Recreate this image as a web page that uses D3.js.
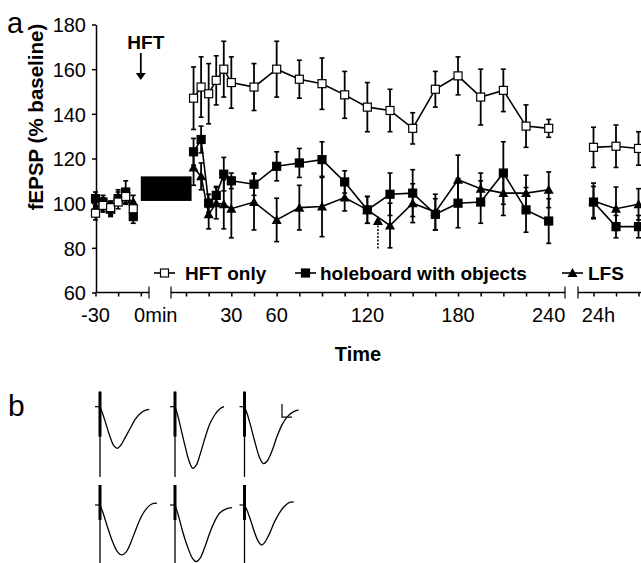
<!DOCTYPE html>
<html>
<head>
<meta charset="utf-8">
<script src="https://cdn.jsdelivr.net/npm/d3@7"></script>
<style>
  body { margin: 0; background: #fff; }
  text { font-family: "Liberation Sans", Arial, sans-serif; fill: #000; }
</style>
</head>
<body>
<svg id="chart" width="641" height="563"></svg>
<script>
// ---- data (panel a) ----
const baseTimes = [-30, -25, -20, -15, -10, -5];
const postTimes = [5, 10, 15, 20, 25, 30, 45, 60, 75, 90, 105, 120, 135, 150, 165, 180, 195, 210, 225, 240];
const dayTimes = [0, 15, 30]; // minutes after 24 h

const hftBase = [95.5, 99, 98, 100.5, 103, 97.5];
const hftBaseErr = [3, 3, 3, 3, 3, 3];
const hftPost = [147, 152, 149, 155, 160, 154, 152, 160, 155.5, 153.5, 148.5, 143, 141.5, 133.5, 151, 157, 147.5, 150.5, 134.5, 133.5];
const hftPostErr = [14, 13.5, 13.5, 11, 12.5, 11.5, 10.5, 12.5, 8.5, 11.5, 10.5, 11, 9.5, 7, 8, 8.5, 12.5, 9.5, 9.5, 4];
const hftDay = [125, 125.5, 124.5];
const hftDayErr = [9, 9.5, 7.5];

const holeBase = [102, 100.5, 97.5, 102, 105, 94];
const holeBaseErr = [3, 3, 3, 3, 5, 3];
const holePost = [123, 128.5, 100, 103.5, 113, 110, 108.5, 116.5, 118, 119.5, 109.5, 97, 104, 104.5, 95, 100, 100.5, 113.5, 97, 92];
const holePostErr = [6, 6, 4, 4, 7.5, 3.5, 5, 6.5, 6.5, 8, 5, 6, 9.5, 10.5, 7, 11, 9.5, 14, 10, 10];
const holeDay = [100.5, 89.5, 89.5];
const holeDayErr = [7, 5, 5];

const lfsBase = [98, 99.5, 97, 103, 102.5, 100.5];
const lfsBaseErr = [3, 3, 3, 3, 3, 3];
const lfsPost = [116, 112, 95, 100, 99.5, 97.5, 100.5, 92.5, 98, 98.5, 102.5, 97, 90, 100, 96, 110.5, 106.5, 104.5, 104.5, 106];
const lfsPostErr = [8, 6, 6.5, 7, 11, 13, 12.5, 9.7, 10, 13.5, 6, 6, 10, 8.7, 8, 11, 7, 10, 8, 8];
const lfsDay = [101, 97.5, 99.5];
const lfsDayErr = [8, 9.7, 7];

const yTicks = [60, 80, 100, 120, 140, 160, 180];
const baseTicks = [-30, -15, 0];
const postTicks = d3.range(0, 241, 15);
const dayTicks = [0, 15, 30];
const postLabels = [30, 60, 120, 180, 240];

const hftBlock = { start: 0, end: 3.7, low: 101, high: 112 };
const lfsStim = { t: 127, v: 92, lineFrom: 90, lineTo: 79 };

// ---- data (panel b), ms / mV ----
const traceRows = [
  { stim: [0.58, -1.15, -2.7] },
  { stim: [0.77, -0.58, -2.4] }
];
const traces = [
  [[0,0],[1,-0.25],[2.5,-0.7],[4,-1.15],[5.5,-1.5],[6.9,-1.6],[8.2,-1.5],[10,-1.2],[12,-0.85],[14,-0.5],[16,-0.27],[18,-0.14],[19.7,-0.1]],
  [[0,0],[1,-0.3],[2.5,-0.9],[4,-1.5],[5.5,-2.05],[7.1,-2.37],[8.5,-2.25],[10,-1.85],[12,-1.2],[14,-0.65],[16,-0.3],[18,-0.08],[19.6,0]],
  [[0,0],[1,-0.25],[2.5,-0.75],[4,-1.3],[6,-1.95],[7.6,-2.19],[9,-2.1],[11,-1.7],[13,-1.15],[15,-0.7],[17,-0.4],[19.5,-0.2],[21.6,-0.12]],
  [[0,0],[1.2,-0.3],[3,-0.85],[5,-1.4],[7,-1.8],[8.7,-1.92],[10.5,-1.8],[12.5,-1.4],[14.5,-0.9],[16.5,-0.45],[18.5,-0.15],[20.5,0.03],[22.8,0.07]],
  [[0,0],[1.2,-0.35],[3,-1.0],[5,-1.6],[7,-2.05],[8.4,-2.18],[10,-2.05],[12,-1.6],[14,-1.05],[16,-0.6],[18,-0.3],[20.5,-0.15],[22.8,-0.1]],
  [[0,0],[1,-0.2],[2.5,-0.6],[4,-1.05],[5.5,-1.4],[6.8,-1.54],[8,-1.45],[10,-1.1],[12,-0.65],[14,-0.3],[16,-0.05],[18,0.1],[19.7,0.12]]
];
const scaleBar = { t: 15, v: -0.4, ms: 4, mv: 0.5 };

const svg = d3.select("#chart");
const FONT = "'Liberation Sans', Arial, sans-serif";

// ---- scales ----
const y = d3.scaleLinear().domain([60, 180]).range([292.5, 24.5]);
const xBase = d3.scaleLinear().domain([-30, 0]).range([95.5, 140.8]);
const xPost = d3.scaleLinear().domain([0, 240]).range([186, 548.7]);
const xDay = d3.scaleLinear().domain([0, 30]).range([593.5, 638.5]);

// panel labels
svg.append("text").attr("x", 7).attr("y", 33).attr("font-size", 29).text("a");
svg.append("text").attr("x", 8).attr("y", 416).attr("font-size", 30).text("b");

// y axis
const yAxis = svg.append("g")
    .attr("transform", "translate(96,0)")
    .call(d3.axisLeft(y).tickValues(yTicks).tickSize(4).tickSizeOuter(0).tickPadding(6));
yAxis.attr("font-family", FONT).attr("font-size", 20);
yAxis.selectAll("path, line").attr("stroke-width", 1.5);
yAxis.selectAll("text").attr("fill", "#000").attr("dy", "0.36em");

svg.append("text")
    .attr("transform", "translate(43,117) rotate(-90)")
    .attr("text-anchor", "middle")
    .attr("font-size", 20.5)
    .attr("font-weight", "bold")
    .text("fEPSP (% baseline)");

// x axis, three pieces with breaks
const axisY = 292.5;
const pieces = [
    { scale: xBase, ticks: baseTicks, from: 95.5, to: 149, breakL: false },
    { scale: xPost, ticks: postTicks, from: 171, to: 565, breakL: true },
    { scale: xDay, ticks: dayTicks, from: 578, to: 641, breakL: true }
];
pieces.forEach(p => {
    const g = svg.append("g").attr("transform", `translate(0,${axisY})`)
        .call(d3.axisBottom(p.scale).tickValues(p.ticks).tickSize(4).tickSizeOuter(0).tickFormat(""));
    g.select(".domain").remove();
    g.selectAll("line").attr("stroke-width", 1.5);
    g.append("line").attr("x1", p.from).attr("x2", p.to)
        .attr("stroke", "#000").attr("stroke-width", 1.5);
    if (p.breakL) {
        g.append("line").attr("x1", p.from).attr("x2", p.from).attr("y1", -6).attr("y2", 6)
            .attr("stroke", "#000").attr("stroke-width", 1.2);
    }
    if (p.to < 641) {
        g.append("line").attr("x1", p.to).attr("x2", p.to).attr("y1", -6).attr("y2", 6)
            .attr("stroke", "#000").attr("stroke-width", 1.2);
    }
});

const xLabels = [
    { x: xBase(-30), text: "-30" },
    { x: xBase(0) + 15, text: "0min" },
    ...postLabels.map(t => ({ x: xPost(t), text: String(t) })),
    { x: xDay(0) + 5, text: "24h" }
];
svg.selectAll(".xlab").data(xLabels).enter().append("text")
    .attr("class", "xlab")
    .attr("x", d => d.x).attr("y", 322)
    .attr("text-anchor", "middle").attr("font-size", 20)
    .text(d => d.text);

svg.append("text").attr("x", 358).attr("y", 361).attr("text-anchor", "middle")
    .attr("font-size", 20).attr("font-weight", "bold").text("Time");

// HFT block and arrow
svg.append("rect")
    .attr("x", xBase(hftBlock.start)).attr("y", y(hftBlock.high))
    .attr("width", xPost(hftBlock.end) - xBase(hftBlock.start))
    .attr("height", y(hftBlock.low) - y(hftBlock.high))
    .attr("fill", "#000");
const ax = xBase(0);
svg.append("text").attr("x", ax + 5).attr("y", 49).attr("text-anchor", "middle")
    .attr("font-size", 19).attr("font-weight", "bold").text("HFT");
svg.append("line").attr("x1", ax).attr("x2", ax).attr("y1", 53).attr("y2", 75)
    .attr("stroke", "#000").attr("stroke-width", 1.8);
svg.append("path").attr("d", `M${ax - 5},73 L${ax + 5},73 L${ax},80 Z`).attr("fill", "#000");

// ---- series ----
function segs(base, baseErr, post, postErr, day, dayErr) {
    return [
        baseTimes.map((t, i) => ({ x: xBase(t), m: base[i], e: baseErr[i] })),
        postTimes.map((t, i) => ({ x: xPost(t), m: post[i], e: postErr[i] })),
        dayTimes.map((t, i) => ({ x: xDay(t), m: day[i], e: dayErr[i] }))
    ];
}
const series = [
    { name: "LFS", marker: "tri", data: segs(lfsBase, lfsBaseErr, lfsPost, lfsPostErr, lfsDay, lfsDayErr) },
    { name: "holeboard with objects", marker: "fill", data: segs(holeBase, holeBaseErr, holePost, holePostErr, holeDay, holeDayErr) },
    { name: "HFT only", marker: "open", data: segs(hftBase, hftBaseErr, hftPost, hftPostErr, hftDay, hftDayErr) }
];

const line = d3.line().x(d => d.x).y(d => y(d.m));
const triPath = "M0,-5 L5,4 L-5,4 Z";

function drawMarker(g, marker, cx, cy) {
    if (marker === "tri") {
        g.append("path").attr("d", triPath).attr("transform", `translate(${cx},${cy})`).attr("fill", "#000");
    } else {
        g.append("rect").attr("x", cx - 4).attr("y", cy - 4).attr("width", 8).attr("height", 8)
            .attr("fill", marker === "open" ? "#fff" : "#000")
            .attr("stroke", "#000").attr("stroke-width", 1.2);
    }
}

series.forEach(s => {
    const g = svg.append("g");
    s.data.forEach(seg => {
        g.append("path").attr("d", line(seg)).attr("fill", "none")
            .attr("stroke", "#000").attr("stroke-width", 1.6);
        seg.forEach(d => {
            const y1 = y(d.m + d.e), y2 = y(d.m - d.e);
            g.append("line").attr("x1", d.x).attr("x2", d.x).attr("y1", y1).attr("y2", y2)
                .attr("stroke", "#000").attr("stroke-width", 1.8);
            [y1, y2].forEach(yy => g.append("line").attr("x1", d.x - 2.5).attr("x2", d.x + 2.5)
                .attr("y1", yy).attr("y2", yy).attr("stroke", "#000").attr("stroke-width", 1.6));
        });
        seg.forEach(d => drawMarker(g, s.marker, d.x, y(d.m)));
    });
});

// LFS application marker
drawMarker(svg, "tri", xPost(lfsStim.t), y(lfsStim.v));
svg.append("line").attr("x1", xPost(lfsStim.t)).attr("x2", xPost(lfsStim.t))
    .attr("y1", y(lfsStim.lineFrom)).attr("y2", y(lfsStim.lineTo))
    .attr("stroke", "#000").attr("stroke-width", 1.5).attr("stroke-dasharray", "2,1.5");

// legend
const legend = [
    { marker: "open", x: 154, tx: 185, text: "HFT only" },
    { marker: "fill", x: 295, tx: 320, text: "holeboard with objects" },
    { marker: "tri", x: 562, tx: 588, text: "LFS" }
];
legend.forEach(l => {
    svg.append("line").attr("x1", l.x).attr("x2", l.x + 21).attr("y1", 273).attr("y2", 273)
        .attr("stroke", "#000").attr("stroke-width", 1.6);
    drawMarker(svg, l.marker, l.x + 10.5, 273);
    svg.append("text").attr("x", l.tx).attr("y", 280).attr("font-size", 19)
        .attr("font-weight", "bold").text(l.text);
});

// ---- panel b: traces ----
const sweep = d3.scaleLinear().domain([0, 20]).range([0, 50]);
const amp = d3.scaleLinear().domain([0, -1]).range([0, 26]);
const colX = [100, 175, 244.5];
const rowY = [406.7, 505];
const traceLine = d3.line().curve(d3.curveCatmullRom);

traces.forEach((tr, i) => {
    const ox = colX[i % 3], oy = rowY[Math.floor(i / 3)];
    const st = traceRows[Math.floor(i / 3)].stim;
    const g = svg.append("g").attr("transform", `translate(${ox},${oy})`);
    g.append("line").attr("x1", 0).attr("x2", 0).attr("y1", amp(st[0])).attr("y2", amp(st[2]))
        .attr("stroke", "#000").attr("stroke-width", 1.3);
    g.append("line").attr("x1", 0).attr("x2", 0).attr("y1", amp(st[0])).attr("y2", amp(st[1]))
        .attr("stroke", "#000").attr("stroke-width", 3);
    g.append("line").attr("x1", sweep(-2)).attr("x2", 0).attr("y1", 0).attr("y2", 0)
        .attr("stroke", "#000").attr("stroke-width", 1.2);
    g.append("path")
        .attr("d", traceLine(tr.map(d => [sweep(d[0]), amp(d[1])])))
        .attr("fill", "none").attr("stroke", "#000").attr("stroke-width", 1.3);
});

// scale bar next to trace 3
const sbx = colX[2] + sweep(scaleBar.t), sby = rowY[0] + amp(scaleBar.v);
svg.append("path")
    .attr("d", `M${sbx},${sby - (amp(0) - amp(scaleBar.mv))} L${sbx},${sby} L${sbx + sweep(scaleBar.ms)},${sby}`)
    .attr("fill", "none").attr("stroke", "#000").attr("stroke-width", 1.2);
</script>
</body>
</html>
